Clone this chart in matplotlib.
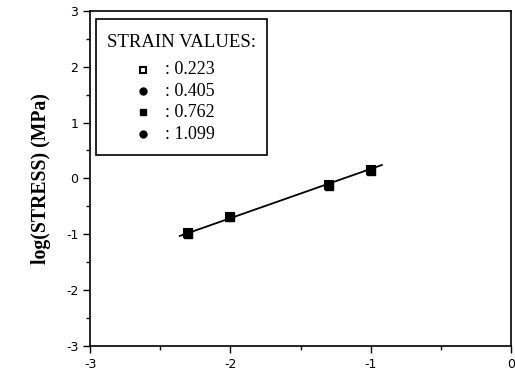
import matplotlib
matplotlib.use("Agg")
import matplotlib.pyplot as plt
from matplotlib.patches import Rectangle
import numpy as np

plt.rcParams['axes.unicode_minus'] = False

# Data
x_vals = [-2.30, -2.00, -1.30, -1.00]
strain_labels = [": 0.223", ": 0.405", ": 0.762", ": 1.099"]
series_y = [
    [-0.98, -0.69, -0.12, 0.15],
    [-0.96, -0.68, -0.11, 0.16],
    [-1.00, -0.70, -0.13, 0.14],
    [-0.97, -0.69, -0.12, 0.15],
]
fit_x = [-2.36, -0.92]
fit_y = [-1.03, 0.24]
xticks = [-3, -2, -1, 0]
yticks = [-3, -2, -1, 0, 1, 2, 3]

fig = plt.figure(figsize=(5.15, 3.76), dpi=100)
ax = fig.add_axes([0.175, 0.08, 0.817, 0.891])

markers = [dict(marker='s', mfc='white', mec='black', mew=1.5, ms=5.5),
           dict(marker='o', mfc='black', mec='black', ms=5.5),
           dict(marker='s', mfc='black', mec='black', ms=5.5),
           dict(marker='o', mfc='black', mec='black', ms=5.5)]

ax.plot(fit_x, fit_y, color='black', lw=1.3, zorder=2)
for ys, mk in zip(series_y, markers):
    ax.plot(x_vals, ys, linestyle='none', zorder=3, **mk)

ax.set_xlim(-3, 0)
ax.set_ylim(-3, 3)
ax.set_xticks(xticks)
ax.set_yticks(yticks)
ax.set_xticks([-2.5, -1.5, -0.5], minor=True)
ax.set_yticks([-2.5, -1.5, -0.5, 0.5, 1.5, 2.5], minor=True)
ax.tick_params(which='major', direction='out', length=5, width=1, labelsize=9)
ax.tick_params(which='minor', direction='out', length=3, width=1)
for lbl in ax.get_xticklabels() + ax.get_yticklabels():
    lbl.set_fontfamily('DejaVu Sans')
for s in ax.spines.values():
    s.set_linewidth(1.2)

ax.set_ylabel("log(STRESS) (MPa)", fontfamily='Liberation Serif', fontweight='bold',
              fontsize=14.2, labelpad=11)

# Legend box drawn in axes coordinates
box = Rectangle((0.0143, 0.570), 0.406, 0.406, transform=ax.transAxes,
                facecolor='white', edgecolor='black', lw=1.2, zorder=4)
ax.add_patch(box)
ax.text(0.0404, 0.905, "STRAIN VALUES:", transform=ax.transAxes, ha='left', va='center',
        fontfamily='Liberation Serif', fontsize=13.5, zorder=5)
row_y = [0.825, 0.760, 0.697, 0.632]
for ry, lab, mk in zip(row_y, strain_labels, markers):
    ax.plot([0.126], [ry], transform=ax.transAxes, linestyle='none', zorder=5,
            clip_on=False, **{**mk, 'ms': 5})
    ax.text(0.178, ry, lab, transform=ax.transAxes, ha='left', va='center',
            fontfamily='Liberation Serif', fontsize=13, zorder=5)

fig.savefig("out.png", dpi=100)
